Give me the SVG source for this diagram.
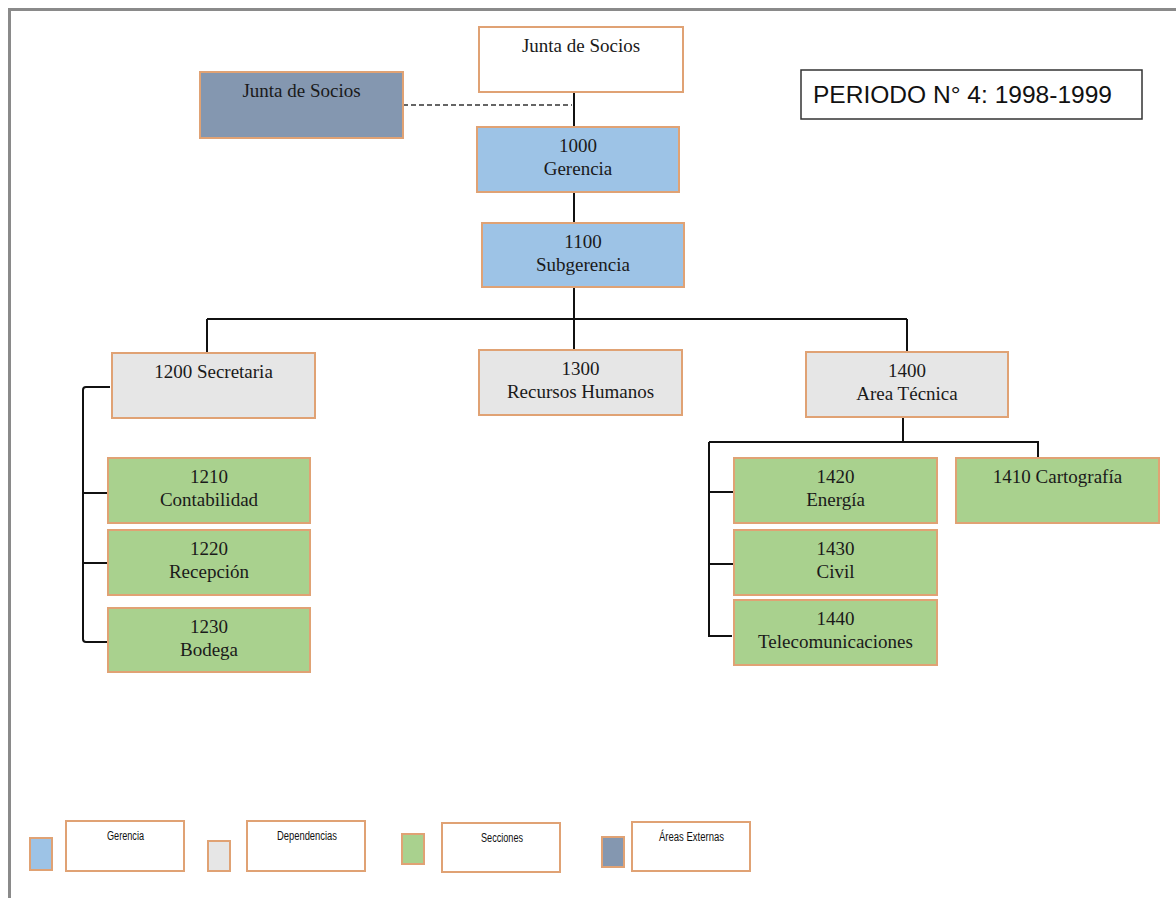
<svg xmlns="http://www.w3.org/2000/svg" width="1176" height="898" viewBox="0 0 1176 898">
<style>
.n{stroke:#e0a274;stroke-width:2}
.w{fill:#ffffff}.b{fill:#9dc3e6}.g{fill:#e6e6e6}.s{fill:#a9d18e}.x{fill:#8497b0}
.t{font-family:"Liberation Serif","Times New Roman",serif;font-size:19px;fill:#1a1a1a;text-anchor:middle}
.lg{font-family:"Liberation Sans",Arial,sans-serif;font-size:12px;fill:#111;text-anchor:start}
.c{fill:none;stroke:#111;stroke-width:2}
</style>
<rect x="0" y="0" width="1176" height="898" fill="#ffffff"/>
<g id="frame"><path d="M8 9.5H1176M9.5 8V898" fill="none" stroke="#8a8a8a" stroke-width="3"/></g>
<g id="connectors">
<path class="c" d="M574 92V127M574 192V223M574 287V350M207 319H907M207 319V353M907 319V352"/>
<path d="M403 105H572" fill="none" stroke="#333" stroke-width="1.5" stroke-dasharray="5,3"/>
<path class="c" d="M110 387H86Q83 387 83 390V639Q83 642 86 642H110M83 493H108M83 563H108"/>
<path class="c" d="M903 417V442M709 442H1038V458M709 442V636H732M709 492H734M709 564H734"/>
</g>
<g id="junta"><rect class="n w" x="479" y="27" width="204" height="65"/><text class="t" x="581" y="52">Junta de Socios</text></g>
<g id="junta-ext"><rect class="n x" x="200" y="72" width="203" height="66"/><text class="t" x="301.5" y="97">Junta de Socios</text></g>
<g id="periodo"><rect x="801" y="70" width="341" height="49" fill="#fff" stroke="#333" stroke-width="1.5"/><text x="813" y="103" font-family="Liberation Sans,Arial,sans-serif" font-size="24.5" fill="#111" textLength="299" lengthAdjust="spacingAndGlyphs">PERIODO N° 4: 1998-1999</text></g>
<g id="n1000"><rect class="n b" x="477" y="127" width="202" height="65"/><text class="t" x="578" y="152">1000</text><text class="t" x="578" y="175">Gerencia</text></g>
<g id="n1100"><rect class="n b" x="482" y="223" width="202" height="64"/><text class="t" x="583" y="248">1100</text><text class="t" x="583" y="271">Subgerencia</text></g>
<g id="n1200"><rect class="n g" x="112" y="353" width="203" height="65"/><text class="t" x="213.5" y="378">1200 Secretaria</text></g>
<g id="n1300"><rect class="n g" x="479" y="350" width="203" height="65"/><text class="t" x="580.5" y="375">1300</text><text class="t" x="580.5" y="398">Recursos Humanos</text></g>
<g id="n1400"><rect class="n g" x="806" y="352" width="202" height="65"/><text class="t" x="907" y="377">1400</text><text class="t" x="907" y="400">Area Técnica</text></g>
<g id="n1210"><rect class="n s" x="108" y="458" width="202" height="65"/><text class="t" x="209" y="483">1210</text><text class="t" x="209" y="506">Contabilidad</text></g>
<g id="n1220"><rect class="n s" x="108" y="530" width="202" height="65"/><text class="t" x="209" y="555">1220</text><text class="t" x="209" y="578">Recepción</text></g>
<g id="n1230"><rect class="n s" x="108" y="608" width="202" height="64"/><text class="t" x="209" y="633">1230</text><text class="t" x="209" y="656">Bodega</text></g>
<g id="n1420"><rect class="n s" x="734" y="458" width="203" height="65"/><text class="t" x="835.5" y="483">1420</text><text class="t" x="835.5" y="506">Energía</text></g>
<g id="n1430"><rect class="n s" x="734" y="530" width="203" height="65"/><text class="t" x="835.5" y="555">1430</text><text class="t" x="835.5" y="578">Civil</text></g>
<g id="n1440"><rect class="n s" x="734" y="600" width="203" height="65"/><text class="t" x="835.5" y="625">1440</text><text class="t" x="835.5" y="648">Telecomunicaciones</text></g>
<g id="n1410"><rect class="n s" x="956" y="458" width="203" height="65"/><text class="t" x="1057.5" y="483">1410 Cartografía</text></g>
<g id="legend">
<rect class="n b" x="30" y="838" width="22" height="32"/>
<rect class="n w" x="66" y="821" width="118" height="50"/>
<text class="lg" x="107" y="840" textLength="37" lengthAdjust="spacingAndGlyphs">Gerencia</text>
<rect class="n g" x="208" y="841" width="22" height="30"/>
<rect class="n w" x="247" y="821" width="118" height="50"/>
<text class="lg" x="277" y="840" textLength="60" lengthAdjust="spacingAndGlyphs">Dependencias</text>
<rect class="n s" x="402" y="834" width="22" height="30"/>
<rect class="n w" x="442" y="823" width="118" height="49"/>
<text class="lg" x="481" y="842" textLength="42" lengthAdjust="spacingAndGlyphs">Secciones</text>
<rect class="n x" x="602" y="837" width="22" height="30"/>
<rect class="n w" x="632" y="822" width="118" height="49"/>
<text class="lg" x="659" y="841" textLength="65" lengthAdjust="spacingAndGlyphs">Áreas Externas</text>
</g>
</svg>
